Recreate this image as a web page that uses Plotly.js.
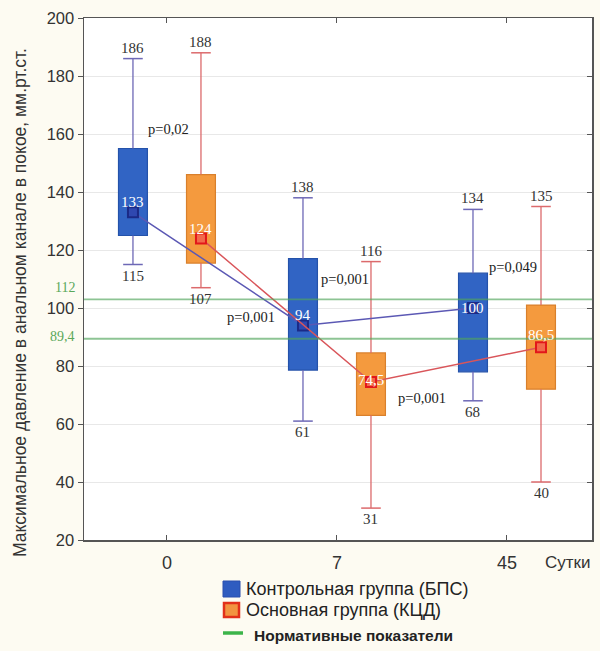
<!DOCTYPE html>
<html>
<head>
<meta charset="utf-8">
<script src="https://cdn.plot.ly/plotly-3.0.1.min.js"></script>
<style>html,body{margin:0;padding:0;background:#fdfbf2;}#chart{width:600px;height:651px;}</style>
</head>
<body>
<div id="chart"></div>
<script>
// ---- data ----
const days = ['0', '7', '45'];
const controlMin = [115, 61, 68];
const controlQ1 = [125, 78.6, 78];
const controlMedian = [133, 94, 100];
const controlQ3 = [155, 117, 112];
const controlMax = [186, 138, 134];
const mainMin = [107, 31, 40];
const mainQ1 = [115.5, 63, 72];
const mainMedian = [124, 74.5, 86.5];
const mainQ3 = [146, 84.5, 101];
const mainMax = [188, 116, 135];
const normValues = [103, 89.4];
const normLabels = ['112', '89,4'];
const pTexts = ['p=0,02', 'p=0,001', 'p=0,001', 'p=0,001', 'p=0,049'];
const legendTexts = ['Контрольная группа (БПС)', 'Основная группа (КЦД)', 'Нормативные показатели'];
const yTitle = 'Максимальное давление в анальном канале в покое, мм.рт.ст.';
const xUnit = 'Сутки';

// ---- layout constants ----
const OFF = 0.2, BW = 0.17;
const pPos = [[0.01, 161.7], [0.494, 96.9], [1.047, 110], [1.5, 69], [2.035, 114.1]];
const ctrlLabelShift = [10, 10, 0];
const mainLabelShift = [9, 2, 12];
const serif = 'Liberation Serif, Times New Roman, serif';
const sans = 'Liberation Sans, Arial, sans-serif';
const M = {l: 84, r: 8, t: 18, b: 111};
const PW = 600 - M.l - M.r, PH = 651 - M.t - M.b;
const px = v => (v - M.l) / PW;
const py = v => (M.t + PH - v) / PH;

const groups = [
  {min: controlMin, q1: controlQ1, med: controlMedian, q3: controlQ3, max: controlMax, off: -OFF,
   fill: '#3164c4', border: '#2452aa', whisk: '#6d68b6', line: '#5b58b4', mk: '#2f48b0', mkLine: '#1b2a86', shifts: ctrlLabelShift},
  {min: mainMin, q1: mainQ1, med: mainMedian, q3: mainQ3, max: mainMax, off: OFF,
   fill: '#f49a3e', border: '#d9802c', whisk: '#dc6a6c', line: '#d9555a', mk: '#f26a4a', mkLine: '#e2171a', shifts: mainLabelShift}
];

const traces = [];
const annotations = [];
groups.forEach(g => {
  const xs = days.map((d, i) => i + g.off);
  traces.push({type: 'bar', x: xs, base: g.q1, y: g.q3.map((v, i) => v - g.q1[i]), width: BW,
    marker: {color: g.fill, line: {color: g.border, width: 1.2}}, hoverinfo: 'skip', showlegend: false});
  const wx = [], wy = [];
  xs.forEach((x, i) => { wx.push(x, x, null, x, x, null); wy.push(g.q3[i], g.max[i], null, g.min[i], g.q1[i], null); });
  traces.push({type: 'scatter', mode: 'lines', x: wx, y: wy, line: {color: g.whisk, width: 1.3}, hoverinfo: 'skip', showlegend: false});
  traces.push({type: 'scatter', mode: 'markers', x: xs.concat(xs), y: g.max.concat(g.min),
    marker: {symbol: 'line-ew', size: 14, line: {color: g.whisk, width: 1.5}}, hoverinfo: 'skip', showlegend: false});
  xs.forEach((x, i) => {
    annotations.push({x: x, y: g.max[i], text: String(g.max[i]), showarrow: false, yshift: 11,
      font: {family: serif, size: 15, color: '#333'}});
    annotations.push({x: x, y: g.min[i], text: String(g.min[i]), showarrow: false, yshift: -11,
      font: {family: serif, size: 15, color: '#333'}});
  });
});
groups.forEach(g => {
  const xs = days.map((d, i) => i + g.off);
  traces.push({type: 'scatter', mode: 'lines+markers', x: xs, y: g.med, line: {color: g.line, width: 1.5},
    marker: {symbol: 'square', size: 10, color: g.mk, line: {color: g.mkLine, width: 2}}, hoverinfo: 'skip', showlegend: false});
  xs.forEach((x, i) => {
    annotations.push({x: x, y: g.med[i], text: String(g.med[i]).replace('.', ','), showarrow: false, yshift: g.shifts[i],
      font: {family: serif, size: 15, color: '#ffffff'}});
  });
});

pTexts.forEach((t, i) => annotations.push({x: pPos[i][0], y: pPos[i][1], text: t, showarrow: false,
  font: {family: serif, size: 14.5, color: '#222'}}));

const shapes = normValues.map(v => ({type: 'line', xref: 'paper', x0: 0, x1: 1, yref: 'y', y0: v, y1: v,
  layer: 'above', line: {color: 'rgba(80,165,90,0.65)', width: 1.8}}));
normValues.forEach((v, i) => annotations.push({xref: 'paper', x: 0, y: v, text: normLabels[i], showarrow: false,
  xanchor: 'right', yanchor: 'middle', xshift: -7, yshift: i === 0 ? 12 : 2, font: {family: serif, size: 14, color: '#5aa85a'}}));

// y title & x unit
annotations.push({xref: 'paper', yref: 'paper', x: 0, y: 0.5, xanchor: 'center', yanchor: 'middle', xshift: -64, yshift: -24,
  text: yTitle, textangle: -90, showarrow: false, font: {family: sans, size: 17.5, color: '#333'}});
annotations.push({xref: 'x', yref: 'paper', x: 2.36, y: 0, xanchor: 'center', yanchor: 'middle', yshift: -22, text: xUnit,
  showarrow: false, font: {family: sans, size: 17, color: '#333'}});

// legend (custom)
shapes.push({type: 'rect', xref: 'paper', yref: 'paper', x0: px(223), x1: px(240), y0: py(597), y1: py(581),
  fillcolor: '#2f5cc0', line: {color: '#2a4fae', width: 1}});
shapes.push({type: 'rect', xref: 'paper', yref: 'paper', x0: px(224), x1: px(239), y0: py(617), y1: py(603),
  fillcolor: '#f29440', line: {color: '#e2301a', width: 2.5}});
shapes.push({type: 'line', xref: 'paper', yref: 'paper', x0: px(223), x1: px(243), y0: py(633), y1: py(633),
  line: {color: '#3cb44a', width: 3.5}});
const legY = [589, 610, 635];
const legX = [244, 244, 252];
legendTexts.forEach((t, i) => annotations.push({xref: 'paper', yref: 'paper', x: px(legX[i]), y: py(legY[i]),
  xanchor: 'left', yanchor: 'middle', text: i === 2 ? '<b>' + t + '</b>' : t, showarrow: false,
  font: {family: sans, size: i === 2 ? 15.5 : 18, color: '#222'}}));

const layout = {
  width: 600, height: 651, margin: M,
  paper_bgcolor: '#fdfbf2', plot_bgcolor: '#ffffff',
  showlegend: false, barmode: 'overlay',
  xaxis: {range: [-0.488, 2.5], tickvals: [0, 1, 2], ticktext: days, ticks: 'inside', ticklen: 5, tickcolor: '#555',
    showline: true, linecolor: '#555', linewidth: 1.5, mirror: 'ticks', showgrid: false, zeroline: false,
    ticklabelstandoff: 6, tickfont: {family: sans, size: 18, color: '#333'}},
  yaxis: {range: [20, 200], dtick: 20, ticks: 'outside', ticklen: 5, tickcolor: '#555', showline: true,
    linecolor: '#555', linewidth: 1.5, mirror: true, gridcolor: '#e8e8e8', zeroline: false,
    tickfont: {family: sans, size: 16.5, color: '#333'}},
  yaxis2: {overlaying: 'y', matches: 'y', side: 'right', range: [20, 200], dtick: 20, ticks: 'inside', ticklen: 5,
    tickcolor: '#555', showticklabels: false, showgrid: false, zeroline: false},
  shapes: shapes, annotations: annotations
};
traces.push({type: 'scatter', x: [0], y: [20], yaxis: 'y2', mode: 'markers', marker: {opacity: 0}, hoverinfo: 'skip', showlegend: false});

Plotly.newPlot('chart', traces, layout, {displayModeBar: false, staticPlot: true});
</script>
</body>
</html>
